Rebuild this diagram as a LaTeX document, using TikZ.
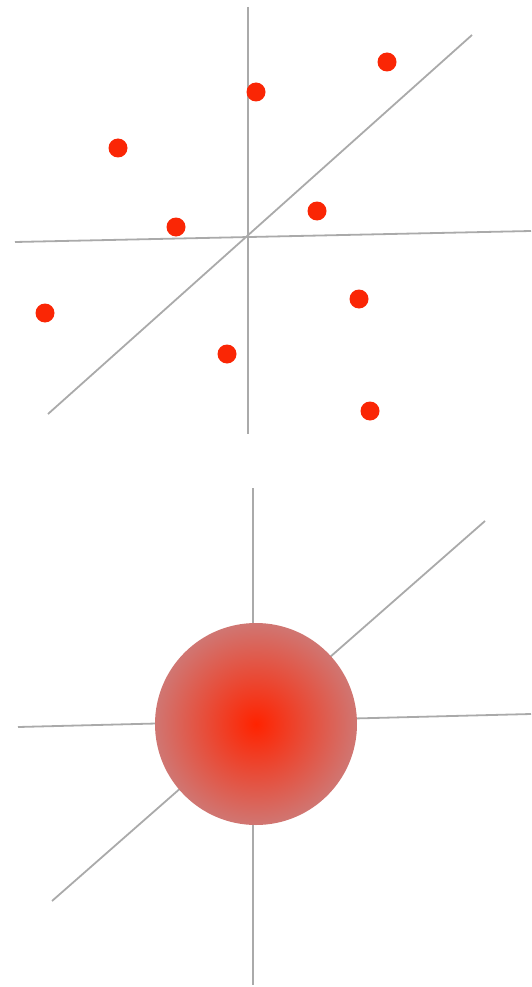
\documentclass[tikz,border=0pt]{standalone}
\begin{document}
\begin{tikzpicture}[x=1pt,y=-1pt,
  axis/.style={draw=axisgray,line width=1.8pt},
  dot/.style={circle,fill=dotred,inner sep=0pt,minimum size=19pt}]
\definecolor{axisgray}{RGB}{170,170,170}
\definecolor{dotred}{RGB}{250,38,5}
\definecolor{ballout}{RGB}{208,118,114}
\definecolor{ballin}{RGB}{255,35,0}
\useasboundingbox (0,0) rectangle (531,987);
% top panel
\coordinate (tvT) at (248,7);
\coordinate (tvB) at (248,434);
\coordinate (thL) at (15,242);
\coordinate (thR) at (531,231);
\coordinate (tdL) at (48,414);
\coordinate (tdR) at (472,35);
\draw[axis] (tvT) -- (tvB);
\draw[axis] (thL) -- (thR);
\draw[axis] (tdL) -- (tdR);
\node[dot] (p1) at (387,62) {};
\node[dot] (p2) at (256,92) {};
\node[dot] (p3) at (118,148) {};
\node[dot] (p4) at (176,227) {};
\node[dot] (p5) at (317,211) {};
\node[dot] (p6) at (45,313) {};
\node[dot] (p7) at (359,299) {};
\node[dot] (p8) at (227,354) {};
\node[dot] (p9) at (370,411) {};
% bottom panel
\coordinate (bvT) at (253,488);
\coordinate (bvB) at (253,985);
\coordinate (bhL) at (18,727);
\coordinate (bhR) at (531,714);
\coordinate (bdL) at (52,901);
\coordinate (bdR) at (485,521);
\draw[axis] (bvT) -- (bvB);
\draw[axis] (bhL) -- (bhR);
\draw[axis] (bdL) -- (bdR);
\node[circle,minimum size=202pt,inner sep=0pt,inner color=ballin,outer color=ballout] (ball) at (256,724) {};
\end{tikzpicture}
\end{document}
